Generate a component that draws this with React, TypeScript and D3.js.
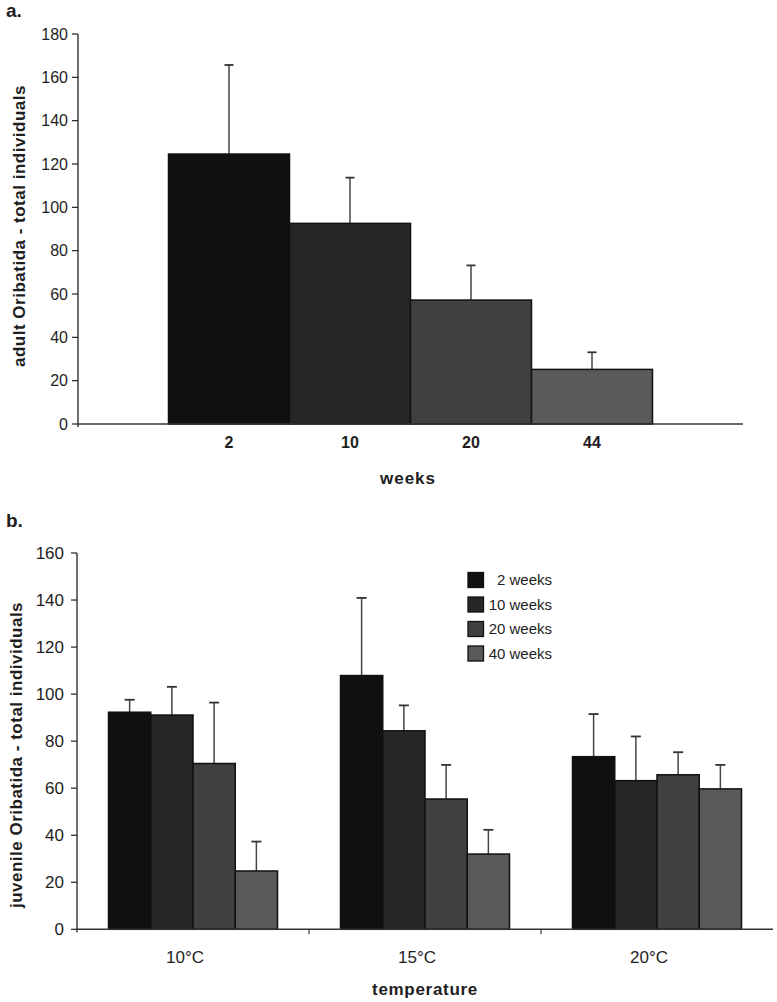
import React from "react";
import * as d3 from "d3";

// ---- Data ----
const weeksA = ["2", "10", "20", "44"];
const adultMeans = [124.6, 92.6, 57.2, 25.2];
const adultErrTop = [165.7, 113.7, 73.2, 33.1];

const temps = ["10°C", "15°C", "20°C"];
const seriesB = ["2 weeks", "10 weeks", "20 weeks", "40 weeks"];
const juvMeans = [
  [92.3, 91.1, 70.5, 24.8],
  [107.9, 84.4, 55.4, 32.0],
  [73.4, 63.2, 65.7, 59.7],
];
const juvErrTop = [
  [97.6, 103.1, 96.4, 37.3],
  [140.9, 95.2, 69.9, 42.3],
  [91.5, 82.0, 75.3, 69.9],
];
const ticksA = [0, 20, 40, 60, 80, 100, 120, 140, 160, 180];
const ticksB = [0, 20, 40, 60, 80, 100, 120, 140, 160];

const fills = ["#101010", "#262626", "#404040", "#5a5a5a"];
const FONT = "'Liberation Sans', Arial, Helvetica, sans-serif";
const TXT = "#1e1e1e";

export default function App() {
  // ---- Panel a ----
  const axLeftA = 78, axRightA = 743;
  const yA = d3.scaleLinear().domain([0, 180]).range([424, 34]);
  const xA = d3.scaleBand<string>().domain(weeksA).range([axLeftA + 90.5, axRightA - 90.5]).padding(0);
  const capW = 9;

  // ---- Panel b ----
  const axLeftB = 77, axRightB = 773;
  const yB = d3.scaleLinear().domain([0, 160]).range([929.3, 553]);
  const xB = d3.scaleBand<string>().domain(temps).range([axLeftB, axRightB]).paddingInner(0).paddingOuter(0);
  const groupPad = 31.5;
  const xInner = d3.scaleBand<string>().domain(seriesB).range([groupPad, xB.bandwidth() - groupPad]).padding(0);

  return (
    <svg width={777} height={1002} style={{ position: "absolute", left: 0, top: 0, background: "#fff" }} fontFamily={FONT}>
      <rect x={0} y={0} width={777} height={1002} fill="#fff" />
      {/* ===== Panel a ===== */}
      <text x={6} y={17} fontSize={19} fontWeight="bold" fill={TXT}>a.</text>
      <text transform={`translate(25,226) rotate(-90)`} textAnchor="middle" fontSize={17} letterSpacing={0.5} fontWeight="bold" fill={TXT}>
        adult Oribatida - total individuals
      </text>
      {ticksA.map((t) => (
        <g key={t}>
          <line x1={axLeftA - 6} x2={axLeftA} y1={yA(t)} y2={yA(t)} stroke="#222" strokeWidth={1.2} />
          <text x={axLeftA - 10} y={yA(t)} dy="0.36em" textAnchor="end" fontSize={16} fill={TXT}>{t}</text>
        </g>
      ))}
      {weeksA.map((w, i) => {
        const x0 = xA(w)!;
        const bw = xA.bandwidth();
        const cx = x0 + bw / 2;
        return (
          <g key={w}>
            <line x1={cx} x2={cx} y1={yA(adultMeans[i])} y2={yA(adultErrTop[i])} stroke="#444" strokeWidth={1.5} />
            <line x1={cx - capW / 2} x2={cx + capW / 2} y1={yA(adultErrTop[i])} y2={yA(adultErrTop[i])} stroke="#333" strokeWidth={1.8} />
            <rect x={x0} y={yA(adultMeans[i])} width={bw} height={yA(0) - yA(adultMeans[i])} fill={fills[i]} stroke="#111" strokeWidth={1.5} />
            <text x={cx} y={448} textAnchor="middle" fontSize={16} fontWeight="bold" fill={TXT}>{w}</text>
          </g>
        );
      })}
      <line x1={axLeftA} x2={axLeftA} y1={yA(180)} y2={yA(0) + 3} stroke="#222" strokeWidth={1.3} />
      <line x1={axLeftA} x2={axRightA} y1={yA(0)} y2={yA(0)} stroke="#333" strokeWidth={1.5} />
      <text x={408} y={484} textAnchor="middle" fontSize={17} letterSpacing={1} fontWeight="bold" fill={TXT}>weeks</text>

      {/* ===== Panel b ===== */}
      <text x={6} y={527} fontSize={19} fontWeight="bold" fill={TXT}>b.</text>
      <text transform={`translate(22,755) rotate(-90)`} textAnchor="middle" fontSize={17} letterSpacing={0.5} fontWeight="bold" fill={TXT}>
        juvenile Oribatida - total individuals
      </text>
      {ticksB.map((t) => (
        <g key={t}>
          <line x1={axLeftB - 6} x2={axLeftB} y1={yB(t)} y2={yB(t)} stroke="#222" strokeWidth={1.2} />
          <text x={axLeftB - 13} y={yB(t)} dy="0.36em" textAnchor="end" fontSize={17} fill={TXT}>{t}</text>
        </g>
      ))}
      {temps.map((tc, gi) => {
        const gx = xB(tc)!;
        return (
          <g key={tc}>
            {seriesB.map((s, si) => {
              const x0 = gx + xInner(s)!;
              const bw = xInner.bandwidth();
              const cx = x0 + bw / 2;
              const v = juvMeans[gi][si];
              const e = juvErrTop[gi][si];
              return (
                <g key={s}>
                  <line x1={cx} x2={cx} y1={yB(v)} y2={yB(e)} stroke="#444" strokeWidth={1.5} />
                  <line x1={cx - 5} x2={cx + 5} y1={yB(e)} y2={yB(e)} stroke="#333" strokeWidth={1.8} />
                  <rect x={x0} y={yB(v)} width={bw} height={yB(0) - yB(v)} fill={fills[si]} stroke="#111" strokeWidth={1.5} />
                </g>
              );
            })}
            <text x={gx + xB.bandwidth() / 2 - 8} y={963} textAnchor="middle" fontSize={17} fill={TXT}>{tc}</text>
          </g>
        );
      })}
      {temps.slice(1).map((tc) => (
        <line key={tc} x1={xB(tc)!} x2={xB(tc)!} y1={yB(0)} y2={yB(0) + 5} stroke="#333" strokeWidth={1.2} />
      ))}
      <line x1={axLeftB} x2={axLeftB} y1={yB(160)} y2={yB(0) + 3} stroke="#222" strokeWidth={1.3} />
      <line x1={axLeftB} x2={axRightB} y1={yB(0)} y2={yB(0)} stroke="#333" strokeWidth={1.5} />
      <text x={425} y={995} textAnchor="middle" fontSize={17} letterSpacing={0.7} fontWeight="bold" fill={TXT}>temperature</text>

      {/* Legend */}
      {seriesB.map((s, i) => {
        const cy = 580 + i * 24.5;
        return (
          <g key={s}>
            <rect x={468} y={cy - 7.5} width={15.5} height={15} fill={fills[i]} stroke="#111" strokeWidth={1.3} />
            <text x={552} y={cy} dy="0.36em" textAnchor="end" fontSize={15} fill={TXT}>{s}</text>
          </g>
        );
      })}
    </svg>
  );
}
